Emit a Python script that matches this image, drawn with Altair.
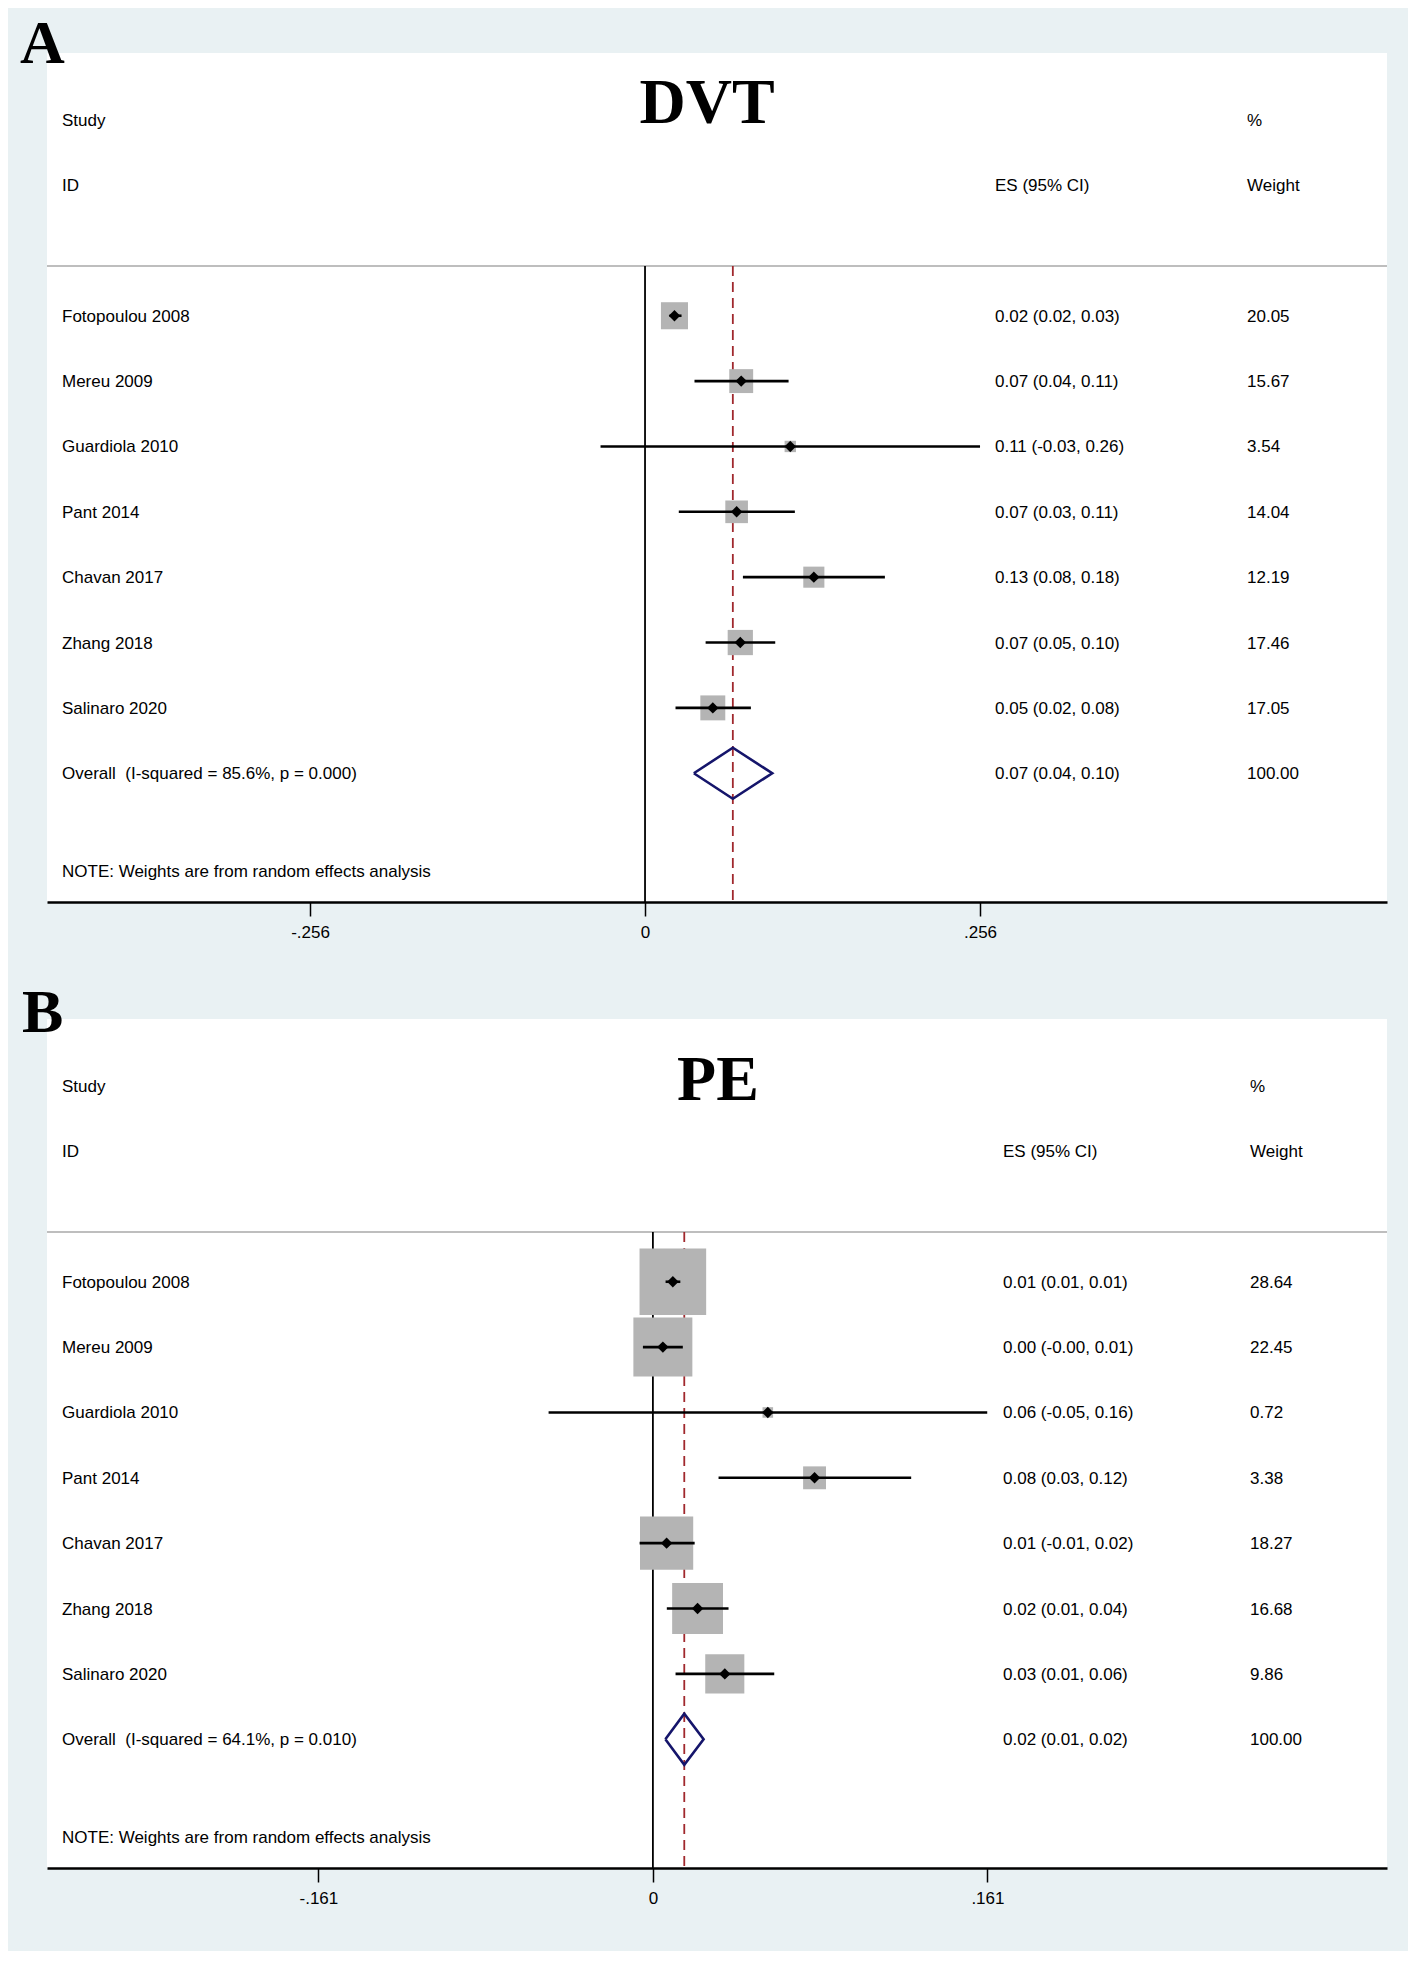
import altair as alt
import pandas as pd

# ---------------- data ----------------
studies = ["Fotopoulou 2008", "Mereu 2009", "Guardiola 2010", "Pant 2014",
           "Chavan 2017", "Zhang 2018", "Salinaro 2020"]

# Panel A: DVT
dvt_es = [0.0225, 0.0735, 0.111, 0.070, 0.129, 0.0728, 0.0518]
dvt_lo = [0.0187, 0.0378, -0.034, 0.0258, 0.0748, 0.0463, 0.0233]
dvt_hi = [0.0279, 0.1097, 0.256, 0.1145, 0.1833, 0.0995, 0.0809]
dvt_weight = [20.05, 15.67, 3.54, 14.04, 12.19, 17.46, 17.05]
dvt_es_text = ["0.02 (0.02, 0.03)", "0.07 (0.04, 0.11)", "0.11 (-0.03, 0.26)",
               "0.07 (0.03, 0.11)", "0.13 (0.08, 0.18)", "0.07 (0.05, 0.10)",
               "0.05 (0.02, 0.08)"]
dvt_weight_text = ["20.05", "15.67", "3.54", "14.04", "12.19", "17.46", "17.05"]
dvt_overall = [0.0671, 0.0373, 0.0972]          # es, lo, hi
dvt_overall_label = "Overall\u00a0 (I-squared = 85.6%, p = 0.000)"
dvt_overall_text = "0.07 (0.04, 0.10)"
dvt_ticks = [-0.256, 0, 0.256]
dvt_tick_labels = ["-.256", "0", ".256"]

# Panel B: PE
pe_es = [0.0096, 0.0048, 0.0553, 0.0778, 0.0066, 0.0215, 0.0346]
pe_lo = [0.0061, -0.0048, -0.0502, 0.0316, -0.0064, 0.0067, 0.0109]
pe_hi = [0.0132, 0.0144, 0.1609, 0.1243, 0.0201, 0.0364, 0.0584]
pe_weight = [28.64, 22.45, 0.72, 3.38, 18.27, 16.68, 9.86]
pe_es_text = ["0.01 (0.01, 0.01)", "0.00 (-0.00, 0.01)", "0.06 (-0.05, 0.16)",
              "0.08 (0.03, 0.12)", "0.01 (-0.01, 0.02)", "0.02 (0.01, 0.04)",
              "0.03 (0.01, 0.06)"]
pe_weight_text = ["28.64", "22.45", "0.72", "3.38", "18.27", "16.68", "9.86"]
pe_overall = [0.0151, 0.0060, 0.0244]
pe_overall_label = "Overall\u00a0 (I-squared = 64.1%, p = 0.010)"
pe_overall_text = "0.02 (0.01, 0.02)"
pe_ticks = [-0.161, 0, 0.161]
pe_tick_labels = ["-.161", "0", ".161"]

total_weight_text = "100.00"
note_text = "NOTE: Weights are from random effects analysis"

# ---------------- styling ----------------
NAVY = "#15156B"
MAROON = "#A0282D"
BOX_GRAY = "#B4B4B4"
SEP_GRAY = "#BEBEBE"
BG = "#E9F1F3"
SANS = "Liberation Sans"
SERIF = "Liberation Serif"
FS = 17
W, H = 1340, 849
Y_DOMAIN = [-4.02, 8.97]
SEP_ROW = -0.76
NOTE_ROW = 8.5


def panel(letter, title, es, lo, hi, weight, es_text, weight_text, overall,
          overall_label, overall_text, ticks, tick_labels, x_domain,
          area_per_pct, es_col, wt_col, title_x, title_y, letter_x, letter_y):
    n = len(studies)
    label_expr = " : ".join(
        f"datum.value == {v} ? '{l}'" for v, l in zip(ticks, tick_labels)) + " : ''"
    axis = alt.Axis(values=ticks, labelExpr=label_expr, title=None, grid=False,
                    tickSize=14, tickWidth=1.5, tickColor="black",
                    domainColor="black", domainWidth=2.5,
                    labelFont=SANS, labelFontSize=FS, labelColor="black",
                    labelPadding=8)
    xs = alt.Scale(domain=x_domain, nice=False, zero=False)
    ys = alt.Scale(domain=Y_DOMAIN, reverse=True, nice=False, zero=False)

    def X(f):
        return alt.X(f, type="quantitative", scale=xs, axis=axis)

    def Y(f):
        return alt.Y(f, type="quantitative", scale=ys, axis=None)

    df = pd.DataFrame({"study": studies, "es": es, "lo": lo, "hi": hi,
                       "weight": weight, "row": list(range(n))})
    tbl = pd.DataFrame({
        "name": studies + [overall_label],
        "est": es_text + [overall_text],
        "wt": weight_text + [total_weight_text],
        "row": list(range(n + 1)),
    })
    ref = pd.DataFrame({"x": [0, overall[0]], "y1": [SEP_ROW, SEP_ROW],
                        "y2": [Y_DOMAIN[1], Y_DOMAIN[1]],
                        "kind": ["zero", "overall"]})
    ov_row = n
    dia = pd.DataFrame({
        "x": [overall[1], overall[0], overall[2], overall[0], overall[1]],
        "y": [ov_row, ov_row - 0.39, ov_row, ov_row + 0.39, ov_row],
        "o": [0, 1, 2, 3, 4],
    })
    left_hdr = pd.DataFrame({"t": ["Study", "ID", note_text], "row": [-3, -2, NOTE_ROW]})
    wt_hdr = pd.DataFrame({"t": ["%", "Weight"], "row": [-3, -2]})
    es_hdr = pd.DataFrame({"t": ["ES (95% CI)"], "row": [-2]})
    sep = pd.DataFrame({"row": [SEP_ROW]})

    base_rule = alt.Chart(ref)
    zero_line = base_rule.transform_filter("datum.kind == 'zero'").mark_rule(
        color="black", strokeWidth=1.8).encode(x=X("x"), y=Y("y1"), y2="y2")
    dash_line = base_rule.transform_filter("datum.kind == 'overall'").mark_rule(
        color=MAROON, strokeWidth=1.8, strokeDash=[10, 6]).encode(
        x=X("x"), y=Y("y1"), y2="y2")
    sep_line = alt.Chart(sep).mark_rule(color=SEP_GRAY, strokeWidth=2).encode(y=Y("row"))

    boxes = alt.Chart(df).mark_square(color=BOX_GRAY, opacity=1, filled=True).encode(
        x=X("es"), y=Y("row"),
        size=alt.Size("weight:Q", legend=None,
                      scale=alt.Scale(type="linear", domain=[0, 100],
                                      range=[0, 100 * area_per_pct], zero=True)))
    ci = alt.Chart(df).mark_rule(color="black", strokeWidth=2.6).encode(
        x=X("lo"), x2="hi", y=Y("row"))
    pts = alt.Chart(df).mark_point(shape="diamond", filled=True, color="black",
                                   opacity=1, size=130).encode(x=X("es"), y=Y("row"))
    diamond = alt.Chart(dia).mark_line(color=NAVY, strokeWidth=2.6,
                                       strokeJoin="miter").encode(
        x=X("x"), y=Y("y"), order="o:Q")

    txt = dict(font=SANS, fontSize=FS, color="black", align="left", baseline="middle", dy=1)
    names = alt.Chart(tbl).mark_text(**txt).encode(
        x=alt.value(15), y=Y("row"), text="name:N")
    ests = alt.Chart(tbl).mark_text(**txt).encode(
        x=alt.value(es_col), y=Y("row"), text="est:N")
    wts = alt.Chart(tbl).mark_text(**txt).encode(
        x=alt.value(wt_col), y=Y("row"), text="wt:N")
    lh = alt.Chart(left_hdr).mark_text(**txt).encode(
        x=alt.value(15), y=Y("row"), text="t:N")
    wh = alt.Chart(wt_hdr).mark_text(**txt).encode(
        x=alt.value(wt_col), y=Y("row"), text="t:N")
    eh = alt.Chart(es_hdr).mark_text(**txt).encode(
        x=alt.value(es_col), y=Y("row"), text="t:N")

    ttl = alt.Chart(pd.DataFrame({"t": [title]})).mark_text(
        font=SERIF, fontSize=64, fontWeight="bold", color="black",
        align="center", baseline="alphabetic").encode(
        x=alt.value(title_x), y=alt.value(title_y), text="t:N")
    let = alt.Chart(pd.DataFrame({"t": [letter]})).mark_text(
        font=SERIF, fontSize=62, fontWeight="bold", color="black",
        align="left", baseline="alphabetic").encode(
        x=alt.value(letter_x), y=alt.value(letter_y), text="t:N")

    return alt.layer(sep_line, zero_line, dash_line, boxes, ci, pts, diamond,
                     names, ests, wts, lh, wh, eh, ttl, let).properties(
        width=W, height=H)


pa = panel("A", "DVT", dvt_es, dvt_lo, dvt_hi, dvt_weight, dvt_es_text,
           dvt_weight_text, dvt_overall, dvt_overall_label, dvt_overall_text,
           dvt_ticks, dvt_tick_labels, [-0.457, 0.567], 36.5,
           948, 1200, 660, 70, -27, 10)
pb = panel("B", "PE", pe_es, pe_lo, pe_hi, pe_weight, pe_es_text,
           pe_weight_text, pe_overall, pe_overall_label, pe_overall_text,
           pe_ticks, pe_tick_labels, [-0.2916, 0.3533], 155,
           956, 1203, 671, 81, -25, 13)

chart = alt.vconcat(pa, pb, spacing=117, bounds="flush").resolve_scale(
    size="independent", x="independent", y="independent"
).properties(
    background=BG,
    padding={"left": 12, "top": 5, "right": 20, "bottom": 45},
).configure_view(fill="white", strokeWidth=0)

chart.save("out.html", embed_options={"renderer": "svg", "actions": False})
